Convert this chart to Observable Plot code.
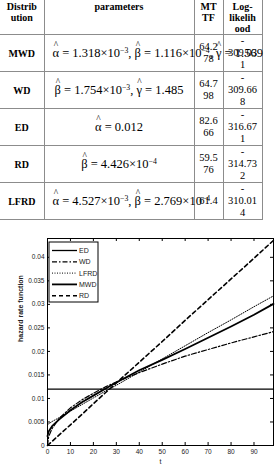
<!DOCTYPE html>
<html><head><meta charset="utf-8">
<script src="https://cdn.jsdelivr.net/npm/d3@7"></script>
<script src="https://cdn.jsdelivr.net/npm/@observablehq/plot@0.6"></script>
<style>
html,body{margin:0;padding:0;background:#fff;width:275px;height:470px;overflow:hidden;position:relative}
table{position:absolute;left:0;top:0;border-collapse:collapse;table-layout:fixed;width:262px;font-family:"Liberation Serif","Times New Roman",serif;color:#000}
td,th{border:1px solid #8c8c8c;padding:0;overflow:visible;white-space:nowrap;text-align:center;vertical-align:middle}
tr:first-child>*{border-top:none}
tr>*:first-child{border-left:none}
th{font-weight:bold;font-size:10px;line-height:11px;vertical-align:top;padding-top:1px}
td.n{font-weight:bold;font-size:10px}
td.m{font-size:10.5px;line-height:12px}
td.l{font-size:10.5px;line-height:12px}
td.f{font-size:12.5px;padding:0 8px}
td.f.ov{text-align:left}
.hat{position:relative;display:inline-block}
.hat::before{content:"^";position:absolute;left:50%;transform:translateX(-45%);top:-0.62em;font-size:0.75em}
sup{font-size:0.62em;vertical-align:0.5em;line-height:0}
#chart{position:absolute;left:0;top:212px}
</style></head>
<body>
<table>
<colgroup><col style="width:44px"><col style="width:150px"><col style="width:29px"><col style="width:39px"></colgroup>
<tr style="height:34px"><th>Distrib<br>ution</th><th>parameters</th><th>MT<br>TF</th><th>Log-<br>likelih<br>ood</th></tr>
<tr style="height:36px"><td class="n">MWD</td><td class="f ov"><span class="hat">α</span> = 1.318×10<sup>−3</sup>, <span class="hat">β</span> = 1.116×10<sup>−4</sup>, <span class="hat">γ</span> = 1.569</td><td class="m">64.2<br>78</td><td class="l">-<br>309.03<br>1</td></tr>
<tr style="height:36px"><td class="n">WD</td><td class="f"><span class="hat">β</span> = 1.754×10<sup>−3</sup>, <span class="hat">γ</span> = 1.485</td><td class="m">64.7<br>98</td><td class="l">-<br>309.66<br>8</td></tr>
<tr style="height:34px"><td class="n">ED</td><td class="f"><span class="hat">α</span> = 0.012</td><td class="m">82.6<br>66</td><td class="l">-<br>316.67<br>1</td></tr>
<tr style="height:35px"><td class="n">RD</td><td class="f"><span class="hat">β</span> = 4.426×10<sup>−4</sup></td><td class="m">59.5<br>76</td><td class="l">-<br>314.73<br>2</td></tr>
<tr style="height:36px"><td class="n">LFRD</td><td class="f ov"><span class="hat">α</span> = 4.527×10<sup>−3</sup>, <span class="hat">β</span> = 2.769×10<sup>−4</sup></td><td class="m">61.4</td><td class="l">-<br>310.01<br>4</td></tr>
</table>
<div id="chart"></div>
<script>
const series = ["ED", "WD", "LFRD", "MWD", "RD"];
const tValues = [0, 0.5, 2, 5, 10, 15, 20, 25, 30, 40, 50, 60, 70, 80, 90, 98.5];
const edValues = [0.012, 0.012, 0.012, 0.012, 0.012, 0.012, 0.012, 0.012, 0.012, 0.012, 0.012, 0.012, 0.012, 0.012, 0.012, 0.012];
const wdValues = [0, 0.0019, 0.0036, 0.0057, 0.0080, 0.0097, 0.0111, 0.0124, 0.0135, 0.0155, 0.0173, 0.0190, 0.0204, 0.0218, 0.0231, 0.0242];
const lfrdValues = [0.0045, 0.0046, 0.0051, 0.0059, 0.0073, 0.0087, 0.0101, 0.0115, 0.0128, 0.0156, 0.0184, 0.0212, 0.0240, 0.0267, 0.0295, 0.0318];
const mwdValues = [0.0020, 0.0030, 0.0041, 0.0055, 0.0075, 0.0092, 0.0106, 0.0120, 0.0134, 0.0160, 0.0182, 0.0205, 0.0229, 0.0253, 0.0278, 0.0301];
const rdValues = [0, 0.00022, 0.00089, 0.0022, 0.0044, 0.0066, 0.0089, 0.0111, 0.0133, 0.0177, 0.0221, 0.0266, 0.0310, 0.0354, 0.0398, 0.0436];
const xTickLabels = [0, 10, 20, 30, 40, 50, 60, 70, 80, 90];
const yTickLabels = [0, 0.005, 0.01, 0.015, 0.02, 0.025, 0.03, 0.035, 0.04];
const xLabel = "t";
const yLabel = "hazard rate function";

const valuesBySeries = {ED: edValues, WD: wdValues, LFRD: lfrdValues, MWD: mwdValues, RD: rdValues};
const styles = {
  ED:   {strokeWidth: 1.3, strokeDasharray: null},
  WD:   {strokeWidth: 1.2, strokeDasharray: "5,2,1.5,2"},
  LFRD: {strokeWidth: 1, strokeDasharray: "1,1.5"},
  MWD:  {strokeWidth: 1.8, strokeDasharray: null},
  RD:   {strokeWidth: 1.6, strokeDasharray: "4,3"}
};
const data = series.flatMap(s => tValues.map((t, i) => ({s, t, h: valuesBySeries[s][i]})));

const W = 275, H = 258, mT = 26, mB = 25, mL = 47, mR = 2;
const fh = H - mT - mB, fw = W - mL - mR;
const xTicks = xTickLabels.filter(d => d > 0);
const yTicks = yTickLabels.filter(d => d > 0);
const fmt = d => d === 0 ? "0" : String(+d.toFixed(3));

const plot = Plot.plot({
  width: W, height: H,
  marginTop: mT, marginBottom: mB, marginLeft: mL, marginRight: mR,
  x: {domain: [0, 98.5]},
  y: {domain: [0, 0.044]},
  style: {fontFamily: "'Liberation Sans', Arial, sans-serif", fontSize: "6.5px", background: "transparent", color: "#222", overflow: "visible"},
  marks: [
    Plot.tickX(xTicks, {x: d => d, insetTop: fh - 3, stroke: "#000"}),
    Plot.tickX(xTicks, {x: d => d, insetBottom: fh - 3, stroke: "#000"}),
    Plot.tickY(yTicks, {y: d => d, insetRight: fw - 3, stroke: "#000"}),
    Plot.tickY(yTicks, {y: d => d, insetLeft: fw - 3, stroke: "#000"}),
    Plot.axisX(xTickLabels, {tickSize: 0, tickPadding: 4, tickFormat: d => String(d), label: null}),
    Plot.axisY(yTickLabels, {tickSize: 0, tickPadding: 3, tickFormat: fmt, label: null}),
    ...series.map(s => Plot.line(data.filter(d => d.s === s), {x: "t", y: "h", stroke: "#000", ...styles[s]})),
    Plot.frame({stroke: "#000"}),
    Plot.text([xLabel], {frameAnchor: "bottom", dy: 18, fontSize: 7}),
    Plot.text([yLabel], {frameAnchor: "left", dx: -27, rotate: -90, fontSize: 7, fontWeight: "bold"})
  ]
});
document.getElementById("chart").appendChild(plot);

// legend box inside the plot (top-left)
const svg = d3.select(plot);
const lg = svg.append("g").attr("font-family", "'Liberation Sans', Arial, sans-serif").attr("font-size", 7).attr("text-anchor", "start");
lg.append("rect").attr("x", 49).attr("y", 30).attr("width", 49).attr("height", 60).attr("fill", "#fff").attr("stroke", "#000");
series.forEach((s, i) => {
  const y = 38.5 + i * 11.3;
  lg.append("line").attr("x1", 52).attr("x2", 77).attr("y1", y).attr("y2", y)
    .attr("stroke", "#000").attr("stroke-width", styles[s].strokeWidth)
    .attr("stroke-dasharray", styles[s].strokeDasharray);
  lg.append("text").attr("x", 79).attr("y", y).attr("dy", "0.35em").attr("text-anchor", "start").attr("fill", "#222").text(s);
});
</script>
</body></html>
